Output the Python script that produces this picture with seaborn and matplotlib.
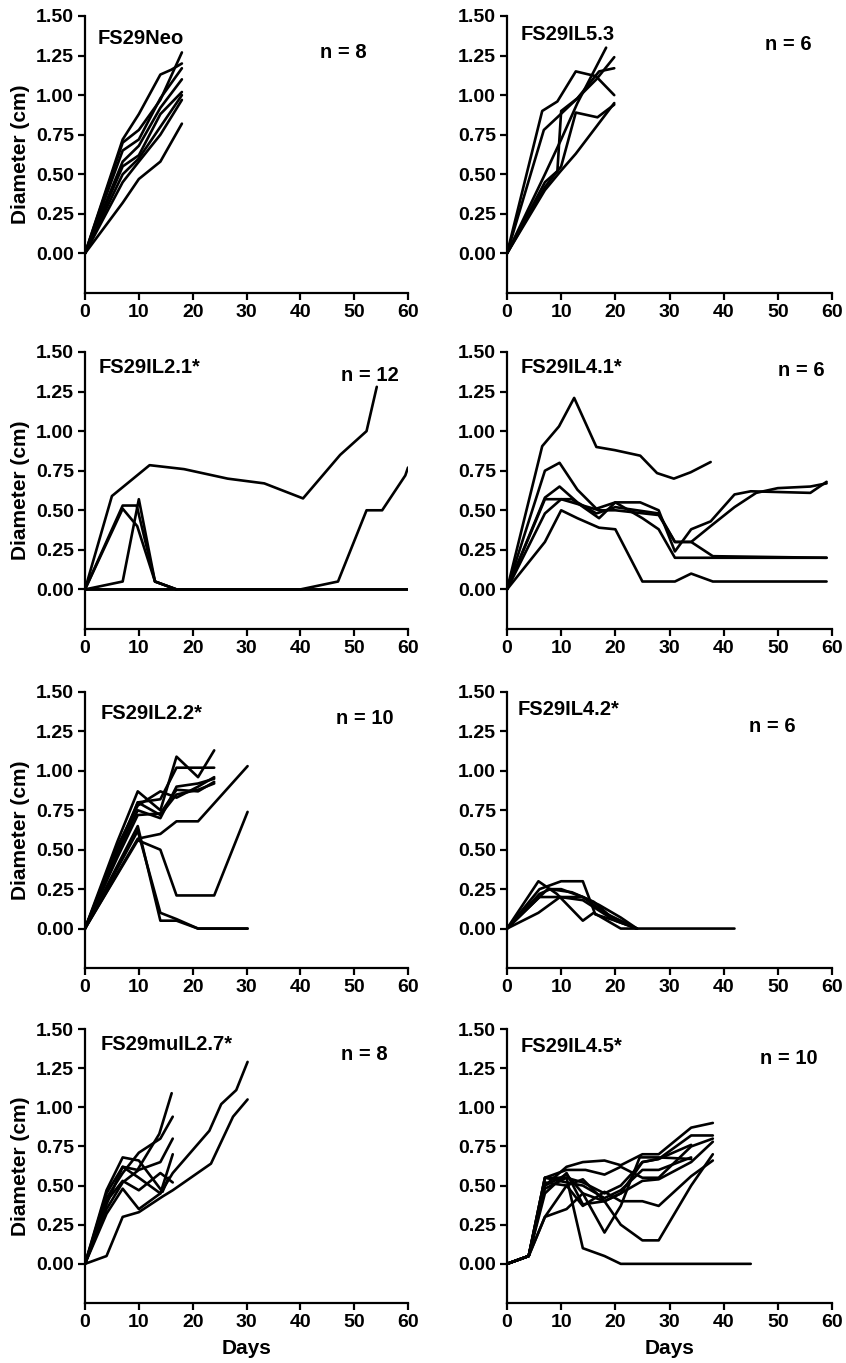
import pandas as pd
import matplotlib
matplotlib.use("Agg")
import matplotlib.pyplot as plt
import seaborn as sns

# Tumour diameter (cm) against days, one line per mouse

# FS29Neo
neo_days = [[0, 7, 10, 14, 16, 18], [0, 7, 10, 14, 18], [0, 7, 10, 14, 18],
            [0, 7, 10, 14, 18], [0, 7, 10, 14, 18], [0, 7, 10, 14, 18],
            [0, 7, 10, 14, 18], [0, 7, 10, 14, 18]]
neo_diam = [[0, 0.72, 0.88, 1.13, 1.16, 1.20], [0, 0.70, 0.78, 0.97, 1.27],
            [0, 0.65, 0.72, 0.98, 1.17], [0, 0.58, 0.68, 0.92, 1.10],
            [0, 0.55, 0.62, 0.88, 1.02], [0, 0.50, 0.60, 0.80, 1.00],
            [0, 0.45, 0.58, 0.75, 0.97], [0, 0.32, 0.47, 0.58, 0.82]]

# FS29IL5.3
il53_days = [[0, 6.5, 9.3, 12.7, 16.4, 19.8], [0, 6.8, 9.3, 13, 16.5, 19.8],
             [0, 7, 10, 13, 18.3], [0, 7, 9.3, 10, 13, 17, 19.8],
             [0, 7, 10, 12.7, 16.7, 19.8], [0, 7, 9.9, 12.7, 19.8]]
il53_diam = [[0, 0.90, 0.96, 1.15, 1.12, 1.00], [0, 0.78, 0.86, 0.98, 1.10, 1.24],
             [0, 0.50, 0.72, 0.95, 1.30], [0, 0.45, 0.52, 0.90, 0.98, 1.15, 1.17],
             [0, 0.42, 0.55, 0.89, 0.86, 0.94], [0, 0.40, 0.52, 0.63, 0.95]]

# FS29IL2.1*
il21_days = [[0, 5, 12, 18.4, 26.5, 33.3, 40.5, 47.4, 52.3, 54.2],
             [0, 7, 9.6, 13, 17, 60], [0, 7, 9.7, 13, 17],
             [0, 7, 10, 13, 17], [0, 40, 47, 52.3, 55.2, 59.5, 60], [0, 60]]
il21_diam = [[0, 0.59, 0.785, 0.76, 0.70, 0.67, 0.575, 0.85, 1.00, 1.28],
             [0, 0.53, 0.53, 0.05, 0, 0], [0, 0.51, 0.40, 0.05, 0],
             [0, 0.05, 0.57, 0.05, 0], [0, 0, 0.05, 0.50, 0.50, 0.72, 0.77], [0, 0]]

# FS29IL4.1*
il41_days = [[0, 6.5, 9.6, 12.4, 16.5, 19.9, 24.6, 27.7, 30.8, 33.9, 37.6],
             [0, 7, 9.7, 13, 16.5, 20, 24.6, 28, 31, 34, 37.6, 42, 45, 56, 59],
             [0, 7, 9.7, 13, 16.5, 20, 28, 31, 34, 37.6, 42, 46, 50, 56, 59],
             [0, 7, 12, 17, 20, 25, 28, 31, 38, 59],
             [0, 7, 10, 17, 20, 28, 31, 34, 38, 59],
             [0, 7, 10, 13, 17, 20, 25, 31, 34, 38, 59]]
il41_diam = [[0, 0.905, 1.03, 1.21, 0.90, 0.88, 0.845, 0.735, 0.70, 0.74, 0.805],
             [0, 0.75, 0.80, 0.63, 0.51, 0.55, 0.55, 0.50, 0.24, 0.38, 0.43, 0.60, 0.62, 0.61, 0.68],
             [0, 0.58, 0.65, 0.55, 0.48, 0.52, 0.48, 0.30, 0.30, 0.40, 0.52, 0.61, 0.64, 0.65, 0.67],
             [0, 0.57, 0.57, 0.45, 0.55, 0.45, 0.38, 0.20, 0.20, 0.20],
             [0, 0.48, 0.57, 0.50, 0.50, 0.47, 0.30, 0.30, 0.21, 0.20],
             [0, 0.30, 0.50, 0.45, 0.39, 0.38, 0.05, 0.05, 0.10, 0.05, 0.05]]

# FS29IL2.2*
il22_days = [[0, 6, 9.8, 14, 17, 21, 24], [0, 6, 9.8, 14, 17, 24],
             [0, 6, 9.8, 14, 17, 21, 24], [0, 6, 9.8, 14, 17, 21, 24],
             [0, 6, 9.8, 14, 17, 21, 24], [0, 6, 9.8, 14, 17, 21, 24],
             [0, 9.8, 14, 17, 21, 30.2], [0, 9.8, 14, 17, 24, 30.2],
             [0, 9.8, 14, 17, 21, 30.2], [0, 9.8, 14, 17, 21, 30.2]]
il22_diam = [[0, 0.55, 0.87, 0.75, 1.09, 0.96, 1.13], [0, 0.50, 0.80, 0.82, 1.02, 1.02],
             [0, 0.52, 0.78, 0.87, 0.83, 0.90, 0.96], [0, 0.48, 0.75, 0.70, 0.90, 0.92, 0.95],
             [0, 0.45, 0.72, 0.73, 0.88, 0.87, 0.93], [0, 0.47, 0.80, 0.72, 0.85, 0.88, 0.92],
             [0, 0.57, 0.60, 0.68, 0.68, 1.03], [0, 0.56, 0.50, 0.21, 0.21, 0.74],
             [0, 0.65, 0.05, 0.05, 0, 0], [0, 0.62, 0.10, 0.06, 0, 0]]

# FS29IL4.2*
il42_days = [[0, 5.8, 9.2, 14, 16, 21, 24, 42], [0, 6, 10, 14, 16.3, 20, 24],
             [0, 6, 10, 14, 18, 21, 24], [0, 5.8, 9.8, 14, 19, 24],
             [0, 7.5, 10, 14, 17, 21, 24], [0, 6, 8, 12, 16, 20, 24]]
il42_diam = [[0, 0.30, 0.22, 0.05, 0.10, 0, 0, 0], [0, 0.25, 0.30, 0.30, 0.09, 0.05, 0],
             [0, 0.20, 0.20, 0.20, 0.10, 0.05, 0], [0, 0.10, 0.20, 0.18, 0.07, 0],
             [0, 0.25, 0.25, 0.20, 0.15, 0.07, 0], [0, 0.22, 0.25, 0.23, 0.17, 0.05, 0]]

# FS29muIL2.7*
mu27_days = [[0, 4, 7, 10, 14.4, 15.5], [0, 4, 7, 9.75, 13.8, 16.1],
             [0, 4, 7, 10, 14, 16.3], [0, 4, 7, 10, 14, 16.3],
             [0, 4, 7, 10, 14, 16.3], [0, 4, 7, 10, 14.4, 16.3, 23.4, 27.5, 30.2],
             [0, 4, 7, 10, 14, 16.3], [0, 4, 7, 10, 14, 16.3, 23.1, 25.3, 28.1, 30.2]]
mu27_diam = [[0, 0.47, 0.68, 0.66, 0.46, 0.55], [0, 0.38, 0.62, 0.60, 0.83, 1.09],
             [0, 0.42, 0.58, 0.71, 0.80, 0.94], [0, 0.35, 0.52, 0.60, 0.65, 0.80],
             [0, 0.32, 0.48, 0.35, 0.45, 0.70], [0, 0.05, 0.30, 0.33, 0.43, 0.47, 0.64, 0.94, 1.05],
             [0, 0.40, 0.53, 0.47, 0.58, 0.52], [0, 0.45, 0.62, 0.55, 0.45, 0.58, 0.85, 1.02, 1.11, 1.29]]

# FS29IL4.5*
il45_days = [[0, 4, 7, 11, 14, 18, 21, 45], [0, 4, 7, 11, 14, 18, 21, 25, 28, 34, 38],
             [0, 4, 7, 11, 14.5, 18, 21, 25, 28, 34, 38], [0, 4, 7, 11, 14, 18, 21, 25, 28, 34, 38],
             [0, 4, 7, 11, 14, 18, 21, 25, 28, 34, 38], [0, 4, 7, 11, 14, 18, 21, 24.5, 28, 34],
             [0, 4, 7, 11, 14, 18, 21, 25, 28, 34, 38], [0, 4, 7, 11, 14, 18, 21, 25, 28, 34, 38],
             [0, 4, 7, 11, 14, 18, 21, 25, 28, 34], [0, 4, 7, 11, 14, 18, 21, 25, 28, 34]]
il45_diam = [[0, 0.05, 0.55, 0.55, 0.10, 0.05, 0, 0],
             [0, 0.05, 0.50, 0.62, 0.65, 0.66, 0.63, 0.70, 0.70, 0.87, 0.90],
             [0, 0.05, 0.55, 0.60, 0.60, 0.57, 0.62, 0.55, 0.55, 0.75, 0.80],
             [0, 0.05, 0.30, 0.35, 0.45, 0.40, 0.45, 0.65, 0.67, 0.82, 0.82],
             [0, 0.05, 0.30, 0.50, 0.37, 0.46, 0.40, 0.40, 0.37, 0.56, 0.66],
             [0, 0.05, 0.50, 0.57, 0.45, 0.20, 0.37, 0.68, 0.68, 0.67],
             [0, 0.05, 0.52, 0.50, 0.54, 0.40, 0.25, 0.15, 0.15, 0.50, 0.70],
             [0, 0.05, 0.45, 0.58, 0.38, 0.40, 0.45, 0.53, 0.54, 0.65, 0.78],
             [0, 0.05, 0.55, 0.52, 0.50, 0.42, 0.47, 0.60, 0.60, 0.68],
             [0, 0.05, 0.48, 0.55, 0.52, 0.45, 0.50, 0.65, 0.67, 0.76]]

panel_names = ["FS29Neo", "FS29IL5.3", "FS29IL2.1*", "FS29IL4.1*",
               "FS29IL2.2*", "FS29IL4.2*", "FS29muIL2.7*", "FS29IL4.5*"]
panel_n = [8, 6, 12, 6, 10, 6, 8, 10]
panel_days = [neo_days, il53_days, il21_days, il41_days,
              il22_days, il42_days, mu27_days, il45_days]
panel_diam = [neo_diam, il53_diam, il21_diam, il41_diam,
              il22_diam, il42_diam, mu27_diam, il45_diam]

# label positions in data units (name left edge, "n =" centre)
name_pos = [(2.4, 1.36), (2.5, 1.385), (2.5, 1.40), (2.5, 1.40),
            (2.9, 1.365), (2.0, 1.39), (2.9, 1.40), (2.5, 1.39)]
n_pos = [(48, 1.27), (52, 1.32), (53, 1.35), (54.3, 1.38),
         (52, 1.33), (49, 1.28), (51.8, 1.335), (52, 1.31)]

sns.set_style("ticks")
plt.rcParams["font.family"] = ["Liberation Sans", "DejaVu Sans"]
plt.rcParams["font.weight"] = "bold"
plt.rcParams["axes.labelweight"] = "bold"
plt.rcParams["text.color"] = "black"
plt.rcParams["axes.labelcolor"] = "black"
plt.rcParams["axes.edgecolor"] = "black"
plt.rcParams["axes.linewidth"] = 1.6
plt.rcParams["xtick.major.width"] = 1.6
plt.rcParams["ytick.major.width"] = 1.6

W, H = 846, 1363
fig = plt.figure(figsize=(W / 100, H / 100), dpi=100)

col_left = [85, 507]
col_width = [323, 325]
row_top = [16, 352, 692, 1029]
row_bottom = [293, 629, 968, 1303]

for i in range(8):
    r, c = divmod(i, 2)
    rect = [col_left[c] / W, 1 - row_bottom[r] / H,
            col_width[c] / W, (row_bottom[r] - row_top[r]) / H]
    ax = fig.add_axes(rect)

    rows = []
    for k, (d, v) in enumerate(zip(panel_days[i], panel_diam[i])):
        for day, val in zip(d, v):
            rows.append({"Days": day, "Diameter": val, "mouse": k})
    df = pd.DataFrame(rows)

    sns.lineplot(data=df, x="Days", y="Diameter", units="mouse", estimator=None,
                 sort=False, color="black", linewidth=1.9, ax=ax)

    ax.set_xlim(0, 60)
    ax.set_ylim(-0.25, 1.5)
    ax.set_xticks([0, 10, 20, 30, 40, 50, 60])
    ax.set_yticks([0, 0.25, 0.5, 0.75, 1.0, 1.25, 1.5])
    ax.set_yticklabels(["0.00", "0.25", "0.50", "0.75", "1.00", "1.25", "1.50"])
    ax.tick_params(axis="both", labelsize=14, length=5, pad=3, colors="black")
    sns.despine(ax=ax)

    ax.set_ylabel("Diameter (cm)" if c == 0 else "", fontsize=15, labelpad=4)
    ax.set_xlabel("Days" if r == 3 else "", fontsize=15, labelpad=6)

    ax.text(name_pos[i][0], name_pos[i][1], panel_names[i], fontsize=14.5,
            ha="left", va="center")
    ax.text(n_pos[i][0], n_pos[i][1], f"n = {panel_n[i]}", fontsize=14.5,
            ha="center", va="center")

fig.savefig("out.png", dpi=100)
